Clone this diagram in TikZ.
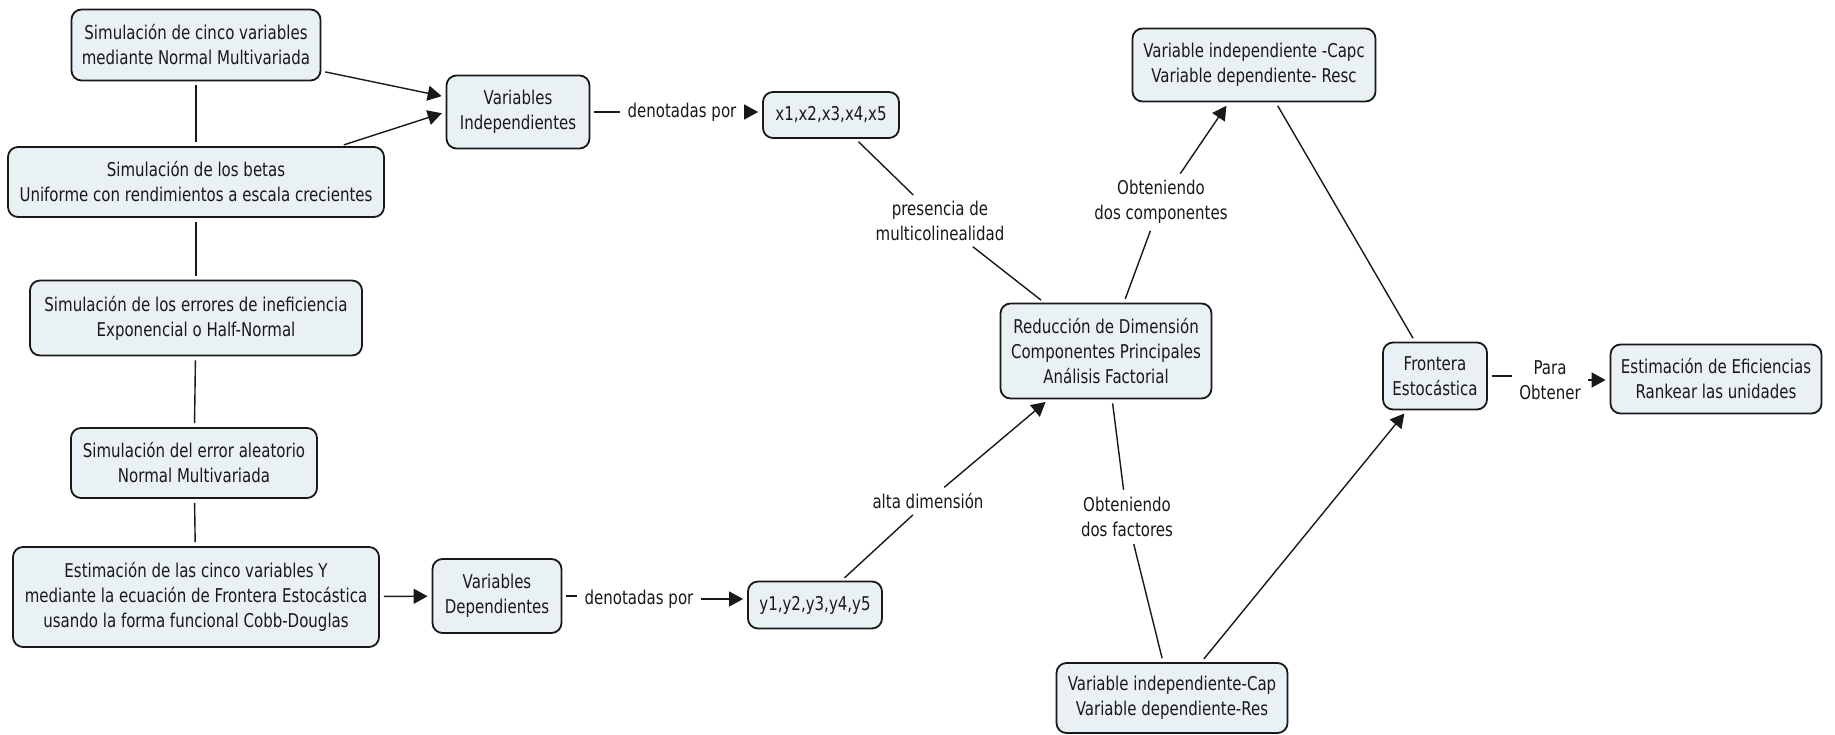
\documentclass[tikz,border=0pt]{standalone}
\usepackage{fontspec}
\setmainfont{DejaVu Sans}[FakeStretch=0.79]
\usetikzlibrary{arrows.meta}
\definecolor{boxfill}{RGB}{234,241,245}
\definecolor{ink}{RGB}{25,25,25}

\begin{document}
\begin{tikzpicture}[x=0.5pt,y=-0.5pt,
  font=\fontsize{9.5}{12.5}\selectfont,
  concept/.style={draw=ink, line width=0.9pt, fill=boxfill, rounded corners=5pt,
    align=center, inner sep=0pt, text=ink},
  linkword/.style={align=center, inner sep=1.5pt, text=ink},
  link/.style={draw=ink, line width=0.7pt, shorten <=2pt, shorten >=2pt},
  arrowlink/.style={link, -{Triangle[length=7pt,width=7.5pt]}},
]
% page frame
\fill[white] (0,0) rectangle (1835,734);
\useasboundingbox (0,0) rectangle (1835,734);

% simulation chain (left column)
\node[concept, minimum width=124.5pt, minimum height=35.5pt] (A) at (196,45)
  {Simulación de cinco variables\\mediante Normal Multivariada};
\node[concept, minimum width=188pt, minimum height=35pt] (B) at (196,182)
  {Simulación de los betas\\Uniforme con rendimientos a escala crecientes};
\node[concept, minimum width=166pt, minimum height=37.5pt] (C) at (196,318)
  {Simulación de los errores de ineficiencia\\Exponencial o Half-Normal};
\node[concept, minimum width=123pt, minimum height=35pt] (D) at (194,463)
  {Simulación del error aleatorio\\Normal Multivariada};
\node[concept, minimum width=183pt, minimum height=50pt] (E) at (196,597)
  {Estimación de las cinco variables Y\\mediante la ecuación de Frontera Estocástica\\usando la forma funcional Cobb-Douglas};

% variables
\node[concept, minimum width=71.5pt, minimum height=36.5pt] (VI) at (518,112)
  {Variables\\Independientes};
\node[linkword] (lab1) at (682,112) {denotadas por};
\node[concept, minimum width=68pt, minimum height=23pt] (xb) at (831,115)
  {x1,x2,x3,x4,x5};

\node[concept, minimum width=64.5pt, minimum height=37pt] (VD) at (497,596)
  {Variables\\Dependientes};
\node[linkword] (lab2) at (639,599) {denotadas por};
\node[concept, minimum width=67pt, minimum height=23.5pt] (yb) at (815,605)
  {y1,y2,y3,y4,y5};

% dimension reduction
\node[linkword] (multi) at (940,221) {presencia de\\multicolinealidad};
\node[linkword] (alta) at (928,501) {alta dimensión};
\node[concept, minimum width=105.5pt, minimum height=47.5pt] (R) at (1106,351)
  {Reducción de Dimensión\\Componentes Principales\\Análisis Factorial};
\node[linkword] (comp) at (1161,202) {Obteniendo\\dos componentes};
\node[concept, minimum width=121.5pt, minimum height=36.5pt] (Capc) at (1254,65)
  {Variable independiente -Capc\\Variable dependiente- Resc};
\node[linkword] (fact) at (1127,517) {Obteniendo\\dos factores};
\node[concept, minimum width=115.5pt, minimum height=35pt] (Cap) at (1172,698)
  {Variable independiente-Cap\\Variable dependiente-Res};

% frontier and efficiencies
\node[concept, minimum width=52pt, minimum height=33.5pt] (F) at (1435,376)
  {Frontera\\Estocástica};
\node[linkword] (para) at (1550,380) {Para\\Obtener};
\node[concept, minimum width=105.5pt, minimum height=34.5pt] (Est) at (1716,379)
  {Estimación de Eficiencias\\Rankear las unidades};

% connectors
\draw[link] (A) -- (B);
\draw[link] (B) -- (C);
\draw[link] (C) -- (D);
\draw[link] (D) -- (E);
\draw[arrowlink] (A) -- (VI);
\draw[arrowlink] (B.14) -- (VI.west);
\draw[arrowlink] (E) -- (VD);

\draw[link] (VI) -- (VI -| lab1.west);
\draw[arrowlink] (lab1) -- (lab1 -| xb.west);
\draw[link] (VD) -- (VD -| lab2.west);
\draw[arrowlink] (lab2) -- (lab2 -| yb.west);

\draw[link] (xb) -- (multi);
\draw[link] (multi) -- (R);
\draw[link] (yb) -- (alta);
\draw[arrowlink] (alta) -- (R);

\draw[link] (R) -- (comp);
\draw[arrowlink] (comp) -- (Capc);
\draw[link] (R) -- (fact);
\draw[link] (fact) -- (Cap);

\draw[link] (Capc) -- (F);
\draw[arrowlink] (Cap) -- (F);
\draw[link] (F) -- (F -| para.west);
\draw[arrowlink] (para) -- (para -| Est.west);
\end{tikzpicture}
\end{document}
